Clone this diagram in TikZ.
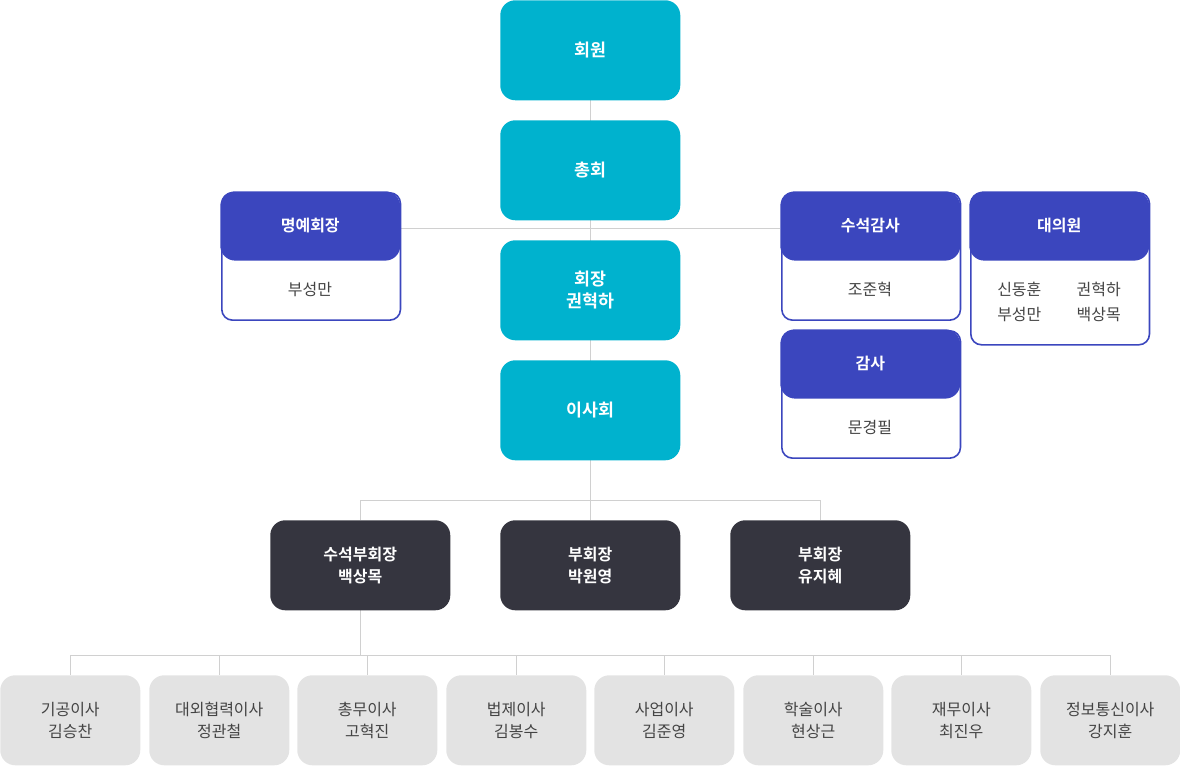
\documentclass[tikz,border=0pt]{standalone}
\usepackage{fontspec}
\setmainfont{Noto Sans CJK KR}
\newfontfamily\bfk{Noto Sans CJK KR Bold}
\definecolor{cy}{HTML}{00B2CE}
\definecolor{bl}{HTML}{3B46BE}
\definecolor{dk}{HTML}{35353F}
\definecolor{gr}{HTML}{E3E3E3}
\definecolor{ln}{HTML}{D0D0D0}
\definecolor{tx}{HTML}{444444}
\begin{document}
\begin{tikzpicture}[x=0.75pt,y=-0.75pt,
 base/.style={rounded corners=11.25pt,inner sep=0pt,align=center,anchor=north west,font=\fontsize{12.5}{16}\selectfont},
 cyb/.style={base,fill=cy,text=white,minimum width=135pt,minimum height=75pt,font=\bfk\fontsize{13}{16.5}\selectfont},
 hd/.style={base,fill=bl,text=white,minimum width=135pt,minimum height=52pt,font=\bfk\fontsize{12}{15}\selectfont},
 card/.style={base,draw=bl,line width=1.2pt,fill=white,minimum width=134pt,rounded corners=8pt,text=tx,font=\fontsize{12}{19}\selectfont},
 dkb/.style={base,fill=dk,text=white,minimum width=135pt,minimum height=67.5pt,font=\bfk\fontsize{12}{16.5}\selectfont},
 grb/.style={base,fill=gr,text=tx,minimum width=105pt,minimum height=67.5pt,font=\fontsize{12}{16.5}\selectfont},
 ln/.style={draw=ln,line width=0.75pt}]
\useasboundingbox (0,0) rectangle (1180,765);
% lines
\coordinate (t) at (590,100); \coordinate (b) at (590,520);
\draw[ln] (t)--(b);
\coordinate (hl) at (400,228); \coordinate (hr) at (780,228);
\draw[ln] (hl)--(hr);
\coordinate (m1) at (360,500); \coordinate (m2) at (820,500);
\draw[ln] (m1)--(m2) (m1)--(360,520) (m2)--(820,520);
\coordinate (s) at (360,610); \coordinate (s2) at (360,655);
\draw[ln] (s)--(s2);
\draw[ln] (70,655)--(1110,655);
\foreach \x in {70,219,367,516,664,813,961,1110}{\draw[ln] (\x,655)--(\x,675);}
% cyan
\node[cyb] (n1) at (500,0) {회원};
\node[cyb] (n2) at (500,120) {총회};
\node[cyb] (n3) at (500,240) {회장\\권혁하};
\node[cyb] (n4) at (500,360) {이사회};
% cards
\node[card,minimum height=95.5pt] (c1) at (221,192) {};
\node[hd] (h1) at (220,191) {명예회장};
\node[text=tx,font=\fontsize{12}{15}\selectfont] (b1) at (310,289) {부성만};
\node[card,minimum height=95.5pt] (c2) at (781,192) {};
\node[hd] (h2) at (780,191) {수석감사};
\node[text=tx,font=\fontsize{12}{15}\selectfont] (b2) at (870,289) {조준혁};
\node[card,minimum height=114pt] (c3) at (970,192) {};
\node[hd] (h3) at (969,191) {대의원};
\node[text=tx,font=\fontsize{12}{19}\selectfont,align=left] (b3) at (1059,302) {신동훈\hspace{2.2em}권혁하\\부성만\hspace{2.2em}백상목};
\node[card,minimum height=95.5pt] (c4) at (781,330) {};
\node[hd] (h4) at (780,329) {감사};
\node[text=tx,font=\fontsize{12}{15}\selectfont] (b4) at (870,427) {문경필};
% dark
\node[dkb] (d1) at (270,520) {수석부회장\\백상목};
\node[dkb] (d2) at (500,520) {부회장\\박원영};
\node[dkb] (d3) at (730,520) {부회장\\유지혜};
% gray
\node[grb] (g1) at (0,675) {기공이사\\김승찬};
\node[grb] (g2) at (149,675) {대외협력이사\\정관철};
\node[grb] (g3) at (297,675) {총무이사\\고혁진};
\node[grb] (g4) at (446,675) {법제이사\\김봉수};
\node[grb] (g5) at (594,675) {사업이사\\김준영};
\node[grb] (g6) at (743,675) {학술이사\\현상근};
\node[grb] (g7) at (891,675) {재무이사\\최진우};
\node[grb] (g8) at (1040,675) {정보통신이사\\강지훈};
\end{tikzpicture}
\end{document}
